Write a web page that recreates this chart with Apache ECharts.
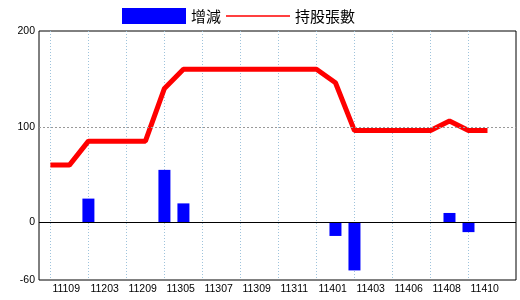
<!DOCTYPE html>
<html>
<head>
<meta charset="utf-8">
<script src="https://cdn.jsdelivr.net/npm/echarts@6/dist/echarts.min.js"></script>
<style>html,body{margin:0;padding:0;background:#fff;}#c{width:520px;height:300px;}</style>
</head>
<body>
<div id="c"></div>
<script>
// tick labels on the x axis (one per two data points)
const tickLabels = ['11109','11203','11209','11305','11307','11309','11311','11401','11403','11406','11408','11410'];
// 增減 (change) per data point
const changes = [0,0,25,0,0,0,55,20,0,0,0,0,0,0,0,-14,-50,0,0,0,0,10,-10,0];
// 持股張數 (holdings) per data point
const holdings = [60,60,85,85,85,85,140,160,160,160,160,160,160,160,160,146,96,96,96,96,96,106,96,96];
const yTicks = [-60,0,100,200];

const tickIdx = tickLabels.map((_, i) => i * 2);
const barData = changes.map((v, i) => [i, v === 0 ? null : v]);
const lineData = holdings.map((v, i) => [i, v]);

const font = '"Liberation Sans", Arial, sans-serif';
const chart = echarts.init(document.getElementById('c'), null, {renderer: 'canvas'});
chart.setOption({
  animation: false,
  backgroundColor: '#fff',
  legend: {
    left: 117, top: 3,
    itemWidth: 64, itemHeight: 16, itemGap: 5,
    textStyle: {fontSize: 15, color: '#000', fontFamily: '"Noto Sans CJK TC", sans-serif'},
    data: [
      {name: '增減', icon: 'rect'},
      {name: '持股張數', icon: 'path://M0,0 L64,0 L64,1.3 L0,1.3 Z', itemStyle: {color: '#ff0000', borderWidth: 0}}
    ]
  },
  grid: {left: 39, right: 4, top: 31, bottom: 20, show: true, borderColor: '#000', borderWidth: 1, backgroundColor: 'transparent'},
  xAxis: {
    type: 'value', min: -0.6, max: 24.5,
    axisLine: {show: false},
    axisTick: {show: false, customValues: tickIdx},
    splitLine: {show: true, lineStyle: {color: '#9ec3dc', type: [1, 2], width: 1}},
    axisLabel: {
      customValues: tickIdx,
      formatter: v => tickLabels[Math.round(v / 2)],
      align: 'left', padding: [0, 0, 0, 2],
      margin: 4, fontSize: 10.5, color: '#000', fontFamily: font
    }
  },
  yAxis: {
    type: 'value', min: -60, max: 200,
    axisLine: {show: false},
    axisTick: {show: false, customValues: yTicks},
    splitLine: {show: false},
    axisLabel: {customValues: yTicks, margin: 4, fontSize: 10.5, color: '#000', fontFamily: font}
  },
  series: [
    {
      name: '增減', type: 'bar', data: barData, barWidth: 12,
      itemStyle: {color: '#0000ff'},
      markLine: {
        silent: true, symbol: 'none', label: {show: false},
        data: [
          {yAxis: 0, lineStyle: {color: '#000', type: 'solid', width: 1}},
          {yAxis: 100, lineStyle: {color: '#999', type: [2, 2], width: 1}}
        ]
      }
    },
    {
      name: '持股張數', type: 'line', data: lineData, symbol: 'none',
      lineStyle: {color: '#ff0000', width: 5},
      itemStyle: {color: '#ff0000'}
    }
  ]
});
</script>
</body>
</html>
